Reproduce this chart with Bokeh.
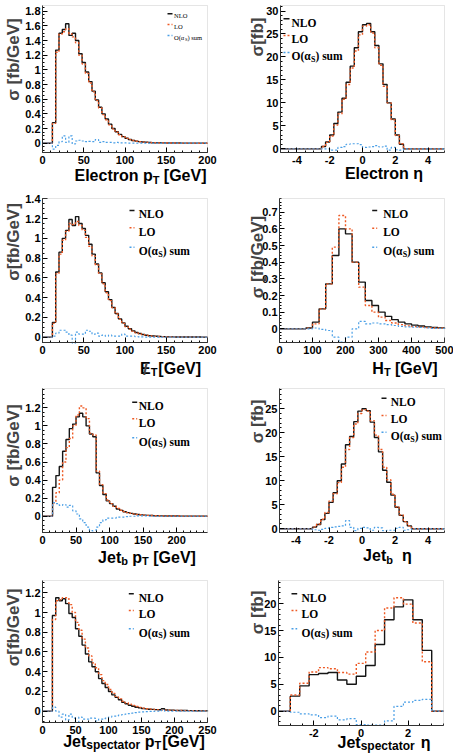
import math
import numpy as np
from bokeh.plotting import figure
from bokeh.layouts import gridplot
from bokeh.models import (Label, Arrow, FixedTicker, CustomJSTickFormatter, Range1d,
                          LinearAxis, BoxAnnotation)
from bokeh.embed import file_html
from bokeh.resources import INLINE

# ---------------- data ----------------
# Panel 1: Electron pT, 4 GeV bins from 12 GeV
ept_lo, ept_w = 12, 4
ept_nlo = [0.28, 1.27, 1.50, 1.55, 1.63, 1.47, 1.50, 1.40, 1.22, 1.10,
           0.97, 0.84, 0.71, 0.59, 0.49, 0.40, 0.33, 0.26, 0.20, 0.155,
           0.12, 0.09, 0.068, 0.05, 0.037, 0.028, 0.021, 0.016, 0.012, 0.009,
           0.007, 0.006, 0.005, 0.004, 0.003, 0.003, 0.002, 0.002, 0.002, 0.001,
           0.001, 0.001, 0.001, 0.001, 0.001, 0.0, 0.0]
ept_lo_ = [0.27, 1.24, 1.49, 1.52, 1.56, 1.49, 1.45, 1.37, 1.20, 1.08,
           0.95, 0.82, 0.70, 0.58, 0.48, 0.39, 0.32, 0.25, 0.195, 0.15,
           0.115, 0.088, 0.066, 0.049, 0.036, 0.027, 0.02, 0.015, 0.011, 0.009,
           0.007, 0.005, 0.004, 0.004, 0.003, 0.002, 0.002, 0.002, 0.001, 0.001,
           0.001, 0.001, 0.001, 0.001, 0.0, 0.0, 0.0]
ept_sum = [-0.08, -0.03, 0.02, 0.10, 0.01, 0.10, -0.01, 0.03, 0.04, 0.03,
           0.02, 0.025, 0.02, 0.05, 0.01, 0.02, 0.01, 0.01, 0.005, 0.01,
           0.005, 0.005, 0.003, 0.002, 0.002, 0.001, 0.001, 0.001, 0.001, 0.0,
           0, 0, 0, 0, 0, 0, 0, 0, 0, 0, 0, 0, 0, 0, 0, 0, 0]
ept_xticks = [0, 50, 100, 150, 200]
ept_yticks = [0, 0.2, 0.4, 0.6, 0.8, 1, 1.2, 1.4, 1.6, 1.8]

# Panel 2: Electron eta, 0.25 bins from -2.5
eeta_lo, eeta_w = -2.5, 0.25
eeta_nlo = [0.5, 1.5, 3.0, 5.5, 8.0, 11.0, 14.5, 18.0, 22.0, 25.5,
            27.0, 27.3, 25.5, 22.5, 18.5, 14.0, 10.0, 6.5, 3.0, 1.0]
eeta_lo_ = [0.5, 1.4, 2.8, 5.2, 7.6, 10.8, 14.0, 17.6, 21.3, 24.8,
            26.7, 27.0, 25.2, 22.0, 18.2, 13.6, 10.0, 6.3, 2.9, 1.1]
eeta_sum = [0.0, 0.0, -0.3, -0.3, 0.3, 0.5, 1.0, 1.1, 1.1, 0.9,
            0.3, 0.4, 0.5, 0.7, 0.4, 0.6, -0.3, 0.3, -0.2, -0.3]
eeta_xticks = [-4, -2, 0, 2, 4]
eeta_yticks = [0, 5, 10, 15, 20, 25, 30]

# Panel 3: missing ET, 4 GeV bins from 12 GeV
met_lo, met_w = 12, 4
met_nlo = [0.15, 0.66, 0.86, 1.00, 1.08, 1.19, 1.13, 1.22, 1.15, 1.10,
           1.03, 0.94, 0.84, 0.74, 0.65, 0.55, 0.46, 0.38, 0.30, 0.24,
           0.185, 0.145, 0.11, 0.085, 0.064, 0.047, 0.037, 0.027, 0.02, 0.015,
           0.012, 0.009, 0.007, 0.005, 0.004, 0.003, 0.003, 0.002, 0.002, 0.002,
           0.001, 0.001, 0.001, 0.001, 0.001, 0.0, 0.0]
met_lo_ = [0.14, 0.64, 0.84, 0.98, 1.07, 1.15, 1.14, 1.17, 1.13, 1.08,
           1.01, 0.92, 0.82, 0.73, 0.64, 0.54, 0.45, 0.37, 0.30, 0.235,
           0.18, 0.14, 0.105, 0.08, 0.061, 0.045, 0.035, 0.026, 0.019, 0.014,
           0.011, 0.008, 0.006, 0.005, 0.004, 0.003, 0.002, 0.002, 0.002, 0.001,
           0.001, 0.001, 0.001, 0.001, 0.0, 0.0, 0.0]
met_sum = [0.01, 0.04, 0.07, 0.07, 0.05, 0.02, -0.06, 0.05, 0.03, 0.03,
           0.07, 0.06, 0.03, 0.04, 0.01, 0.02, 0.01, 0.02, 0.01, 0.01,
           0.01, 0.03, 0.01, 0.01, 0.01, 0.005, 0.003, 0.002, 0.001, 0.001,
           0, 0, 0, 0, 0, 0, 0, 0, 0, 0, 0, 0, 0, 0, 0, 0, 0]
met_xticks = [0, 50, 100, 150, 200]
met_yticks = [0, 0.2, 0.4, 0.6, 0.8, 1, 1.2, 1.4]

# Panel 4: HT, 20 GeV bins from 80 GeV
ht_lo, ht_w = 80, 20
ht_nlo = [0.005, 0.04, 0.12, 0.27, 0.44, 0.60, 0.57, 0.40, 0.28, 0.17,
          0.14, 0.10, 0.075, 0.055, 0.04, 0.03, 0.022, 0.017, 0.012, 0.008, 0.006]
ht_lo_ = [0.004, 0.03, 0.12, 0.27, 0.49, 0.68, 0.60, 0.40, 0.25, 0.14,
          0.10, 0.07, 0.05, 0.035, 0.025, 0.018, 0.013, 0.01, 0.007, 0.005, 0.004]
ht_sum = [0.0, 0.005, -0.003, -0.01, -0.05, -0.08, -0.05, 0.0, 0.045, 0.03,
          0.035, 0.03, 0.025, 0.02, 0.015, 0.012, 0.01, 0.008, 0.005, 0.003, 0.002]
ht_xticks = [0, 100, 200, 300, 400, 500]
ht_yticks = [0, 0.1, 0.2, 0.3, 0.4, 0.5, 0.6, 0.7]

# Panel 5: Jet_b pT, 5 GeV bins from 15 GeV
bpt_lo, bpt_w = 15, 5
bpt_nlo = [0.32, 0.45, 0.55, 0.72, 0.85, 0.97, 1.02, 1.10, 1.14, 1.10,
           1.00, 0.91, 0.88, 0.48, 0.34, 0.24, 0.17, 0.14, 0.11, 0.08,
           0.065, 0.05, 0.04, 0.032, 0.025, 0.02, 0.015, 0.012, 0.01, 0.008,
           0.006, 0.005, 0.004, 0.003, 0.003, 0.002, 0.002, 0.002, 0.001, 0.001,
           0.001, 0.001, 0.001, 0.001, 0.001, 0.001]
bpt_lo_ = [0.15, 0.26, 0.40, 0.60, 0.76, 0.86, 1.00, 1.12, 1.22, 1.20,
           1.08, 0.92, 0.90, 0.50, 0.35, 0.25, 0.18, 0.14, 0.11, 0.085,
           0.067, 0.052, 0.041, 0.033, 0.026, 0.02, 0.016, 0.012, 0.01, 0.008,
           0.006, 0.005, 0.004, 0.003, 0.003, 0.002, 0.002, 0.002, 0.001, 0.001,
           0.001, 0.001, 0.001, 0.001, 0.001, 0.001]
bpt_sum = [0.15, 0.14, 0.12, 0.13, 0.10, 0.12, 0.06, 0.025, -0.03, -0.07,
           -0.12, -0.16, -0.18, -0.12, -0.07, -0.04, -0.02, -0.02, -0.02, -0.01,
           -0.01, -0.01, -0.005, 0.0, 0.0, 0.005, 0.005, 0.003, 0.002, 0.001,
           0, 0, 0, 0, 0, 0, 0, 0, 0, 0, 0, 0, 0, 0, 0, 0]
bpt_xticks = [0, 50, 100, 150, 200]
bpt_yticks = [0, 0.2, 0.4, 0.6, 0.8, 1, 1.2]

# Panel 6: Jet_b eta, 0.25 bins from -3
beta_lo, beta_w = -3, 0.25
beta_nlo = [0.35, 0.9, 1.9, 3.2, 5.5, 7.5, 10.0, 13.5, 17.5, 19.2, 22.3, 24.5,
            25.0, 24.6, 22.2, 19.0, 16.0, 12.2, 9.7, 7.0, 4.5, 2.8, 1.5, 0.6]
beta_lo_ = [0.4, 1.0, 2.0, 3.4, 5.8, 7.3, 9.6, 12.8, 16.5, 19.0, 21.8, 24.0,
            24.8, 24.5, 22.5, 19.5, 16.5, 12.8, 10.2, 7.2, 4.6, 2.9, 1.5, 0.6]
beta_sum = [-0.2, -0.3, -0.1, 0.1, 0.3, 0.4, 0.5, 0.6, 1.7, 0.3, -0.4, 0.1,
            0.3, 0.2, -0.3, 0.3, 0.2, -0.4, -0.3, -0.3, 0.1, 0.3, -0.3, -0.2]
beta_xticks = [-4, -2, 0, 2, 4]
beta_yticks = [0, 5, 10, 15, 20, 25]

# Panel 7: Jet_spectator pT, 5 GeV bins from 15 GeV
spt_lo, spt_w = 15, 5
spt_nlo = [0.97, 1.15, 1.12, 1.14, 1.09, 0.99, 0.95, 0.835, 0.76, 0.67,
           0.58, 0.50, 0.45, 0.40, 0.33, 0.28, 0.24, 0.20, 0.165, 0.14,
           0.115, 0.09, 0.075, 0.06, 0.05, 0.04, 0.034, 0.027, 0.023, 0.02,
           0.018, 0.016, 0.015, 0.025, 0.012, 0.01, 0.009, 0.008, 0.007, 0.006,
           0.006, 0.005, 0.005, 0.004, 0.004, 0.003, 0.003]
spt_lo_ = [0.93, 1.12, 1.13, 1.15, 1.15, 1.08, 1.00, 0.90, 0.82, 0.73,
           0.64, 0.56, 0.49, 0.44, 0.37, 0.31, 0.27, 0.22, 0.18, 0.15,
           0.125, 0.10, 0.085, 0.07, 0.058, 0.047, 0.038, 0.03, 0.025, 0.021,
           0.018, 0.015, 0.013, 0.011, 0.01, 0.009, 0.008, 0.007, 0.006, 0.006,
           0.005, 0.005, 0.004, 0.004, 0.003, 0.003, 0.003]
spt_sum = [0.04, 0.0, -0.06, -0.03, -0.09, -0.03, -0.07, -0.11, -0.06, -0.08,
           -0.08, -0.07, -0.07, -0.10, -0.08, -0.08, -0.07, -0.06, -0.05, -0.05,
           -0.04, -0.035, -0.03, -0.025, -0.02, -0.015, -0.01, -0.008, -0.005, -0.003,
           -0.002, 0.0, 0.0, 0.01, 0.0, 0, 0, 0, 0, 0, 0, 0, 0, 0, 0, 0, 0]
spt_xticks = [0, 50, 100, 150, 200, 250]
spt_yticks = [0, 0.2, 0.4, 0.6, 0.8, 1, 1.2]

# Panel 8: Jet_spectator eta, 0.4 bins from -3
seta_lo, seta_w = -3, 0.4
seta_nlo = [2.8, 4.7, 6.8, 7.0, 7.2, 5.8, 5.0, 6.5, 8.5, 12.4, 17.0, 19.4, 20.7, 17.0, 11.3]
seta_lo_ = [3.0, 5.2, 7.3, 8.1, 7.9, 7.2, 6.9, 8.9, 11.0, 15.0, 19.2, 21.1, 19.9, 16.4, 9.2]
seta_sum = [-0.2, -0.5, -0.7, -1.2, -0.9, -1.6, -1.4, -2.5, -2.6, -2.6, -1.8, 0.9, 1.7, 2.0, 2.2]
seta_xticks = [-2, 0, 2]
seta_yticks = [0, 5, 10, 15, 20]

legend_labels = ["NLO", "LO", "O(\u03b1", "S", ") sum"]

# ---------------- styling ----------------
SANS = "Liberation Sans"
SERIF = "Liberation Serif"
C_NLO = "#151515"
C_LO = "#ee5a24"
C_SUM = "#4a9fe6"

AW = {' ': .278, '[': .333, ']': .333, '/': .278, '(': .333, ')': .333, '.': .278,
      'E': .667, 'G': .778, 'V': .667, 'H': .722, 'J': .556, 'T': .611,
      'a': .556, 'b': .611, 'c': .556, 'e': .556, 'f': .333, 'l': .278, 'n': .611,
      'o': .611, 'p': .611, 'r': .389, 's': .556, 't': .333, '\u03b7': .611, '\u03c3': .62}
TW = {'N': .722, 'L': .667, 'O': .778, '(': .333, ')': .333, '\u03b1': .58, 'S': .556,
      ' ': .25, 's': .389, 'u': .556, 'm': .833}


def tw(s, size, table):
    return sum(table.get(ch, 0.56) for ch in s) * size


def step_xy(lo, w, vals, xr):
    edges = [lo + w * i for i in range(len(vals) + 1)]
    xs = [xr[0]] + edges + [xr[1]]
    ys = [0] + list(vals) + [0, 0]
    return xs, ys


def make_panel(s):
    x0, y0, w, h = s["fig"]
    L, T, R, B = s["frame"]
    (xa, xb), (ya, yb) = s["xr"], s["yr"]
    kx = (R - L) / (xb - xa)
    ky = (B - T) / (yb - ya)
    full_x = (xa - (L - x0) / kx, xb + (x0 + w - R) / kx)
    full_y = (ya - (y0 + h - B) / ky, yb + (T - y0) / ky)
    p = figure(width=w, height=h, x_range=Range1d(*full_x), y_range=Range1d(*full_y),
               output_backend="svg", toolbar_location=None, title=None,
               x_axis_location=None, y_axis_location=None,
               min_border=0, min_border_left=0, min_border_right=0,
               min_border_top=0, min_border_bottom=0)
    p.grid.visible = False
    p.outline_line_color = None
    p.background_fill_color = "white"
    p.border_fill_color = "white"

    def SX(X):
        return X - x0

    def SY(Y):
        return y0 + h - Y

    p.add_layout(BoxAnnotation(left=xa, right=xb, bottom=ya, top=yb, fill_color=None,
                               line_color="#a9a9a9", line_width=1))

    xm, ym = s["xminor"], s["yminor"]
    xt = FixedTicker(ticks=s["xticks"],
                     minor_ticks=list(np.arange(math.ceil(xa / xm - 1e-9) * xm, xb + 1e-9, xm)))
    yt = FixedTicker(ticks=s["yticks"],
                     minor_ticks=list(np.arange(math.ceil(ya / ym - 1e-9) * ym, yb + 1e-9, ym)))
    xax = LinearAxis(fixed_location=ya, bounds=(xa, xb), ticker=xt,
                     formatter=CustomJSTickFormatter(code="return String(tick)"))
    yax = LinearAxis(fixed_location=xa, bounds=(ya, yb), ticker=yt,
                     formatter=CustomJSTickFormatter(code="return String(tick)"))
    for ax in (xax, yax):
        ax.major_label_text_font = SANS
        ax.major_label_text_font_size = "11px"
        ax.major_label_text_font_style = "bold"
        ax.major_label_text_color = "black"
        ax.major_tick_in = 5
        ax.major_tick_out = 0
        ax.minor_tick_in = 2
        ax.minor_tick_out = 0
        ax.axis_line_color = "black"
        ax.major_tick_line_color = "black"
        ax.minor_tick_line_color = "black"
    xax.major_label_standoff = 3
    yax.major_label_standoff = 2
    p.add_layout(xax, "below")
    p.add_layout(yax, "left")

    xs, ys = step_xy(s["lo"], s["w"], s["nlo"], s["xr"])
    p.step(xs, ys, mode="after", line_color=C_NLO, line_width=1.4)
    xs, ys = step_xy(s["lo"], s["w"], s["lo_"], s["xr"])
    p.step(xs, ys, mode="after", line_color=C_LO, line_width=1.4, line_dash="2 2")
    xs, ys = step_xy(s["lo"], s["w"], s["sum"], s["xr"])
    p.step(xs, ys, mode="after", line_color=C_SUM, line_width=1.2, line_dash="2 2")

    def text_run(segs, X, Y, anchor, font, table, style="bold"):
        total = sum(g + tw(t, sz, table) for t, sz, dy, g in segs)
        cx = X - total / 2 if anchor == "center" else X
        starts = []
        for t, sz, dy, g in segs:
            cx += g
            starts.append(cx)
            p.add_layout(Label(x=SX(cx), y=SY(Y) + dy, x_units="screen", y_units="screen", text=t,
                               text_font=font, text_font_size=f"{sz}px", text_font_style=style,
                               text_color="black", text_align="left", text_baseline="alphabetic"))
            cx += tw(t, sz, table)
        return starts

    # axis titles
    xl = s["xlab"]
    starts = text_run(xl["segs"], xl["x"], xl["y"], "center", SANS, AW)
    if xl.get("slash"):
        p.add_layout(Label(x=SX(starts[0] + tw("E", 16, AW) / 2), y=SY(xl["y"]) - 1,
                           x_units="screen", y_units="screen", text="/", text_font=SANS,
                           text_font_size="17px", text_font_style="bold",
                           text_align="center", text_baseline="alphabetic"))
    yl = s["ylab"]
    p.add_layout(Label(x=SX(yl["x"]), y=SY(yl["y"]), x_units="screen", y_units="screen",
                       text=yl["text"], text_font=SANS, text_font_size="17px", text_font_style="bold",
                       angle=math.pi / 2, text_align="center", text_baseline="middle"))

    # legend
    lg = s["leg"]
    fs = lg["size"]
    styles = [(C_NLO, None), (C_LO, "2 2"), (C_SUM, "2 2")]
    texts = [[(legend_labels[0], fs, 0, 0)], [(legend_labels[1], fs, 0, 0)],
             [(legend_labels[2], fs, 0, 0), (legend_labels[3], fs * 0.7, -fs * 0.28, 0),
              (legend_labels[4], fs, 0, 0)]]
    for (col, dash), rowy, segs in zip(styles, lg["rows"], texts):
        kw = dict(line_dash=dash) if dash else {}
        p.add_layout(Arrow(x_start=SX(lg["sx"][0]), y_start=SY(rowy), x_end=SX(lg["sx"][1]),
                           y_end=SY(rowy), start_units="screen", end_units="screen",
                           start=None, end=None, line_color=col, line_width=1.4, **kw))
        text_run(segs, lg["tx"], rowy + fs * 0.33, "left", SERIF, TW, style=lg["style"])
    return p


specs = [
    dict(fig=(0, 0, 226, 187), frame=(42, 5, 207, 152), xr=(0, 200), yr=(-0.127, 1.878),
         xticks=ept_xticks, yticks=ept_yticks, xminor=10, yminor=0.05,
         lo=ept_lo, w=ept_w, nlo=ept_nlo, lo_=ept_lo_, sum=ept_sum,
         xlab=dict(segs=[("Electron p", 16, 0, 0), ("T", 11, -4, 0), ("[GeV]", 16, 0, 4.4)], x=140, y=175),
         ylab=dict(text="\u03c3 [fb/GeV]", x=13, y=59),
         leg=dict(size=6.5, style="normal", rows=[13.3, 24, 35], sx=(167, 172), tx=173.5)),
    dict(fig=(226, 0, 227, 187), frame=(280, 5, 444, 152), xr=(-5, 5), yr=(-0.8, 31.2),
         xticks=eeta_xticks, yticks=eeta_yticks, xminor=0.5, yminor=1,
         lo=eeta_lo, w=eeta_w, nlo=eeta_nlo, lo_=eeta_lo_, sum=eeta_sum,
         xlab=dict(segs=[("Electron \u03b7", 16, 0, 0)], x=383.5, y=173),
         ylab=dict(text="\u03c3[fb]", x=256.7, y=36.5),
         leg=dict(size=11.5, style="bold", rows=[18.3, 35, 52], sx=(283, 289), tx=291)),
    dict(fig=(0, 187, 226, 191), frame=(42, 198, 207, 342), xr=(0, 200), yr=(-0.054, 1.403),
         xticks=met_xticks, yticks=met_yticks, xminor=10, yminor=0.05,
         lo=met_lo, w=met_w, nlo=met_nlo, lo_=met_lo_, sum=met_sum,
         xlab=dict(segs=[("E", 16, 0, 0), ("T", 11, -4, 0), ("[GeV]", 16, 0, 1)], x=170, y=367.7, slash=True),
         ylab=dict(text="\u03c3[fb/GeV]", x=13, y=241.5),
         leg=dict(size=11.5, style="bold", rows=[210, 227.3, 246.7], sx=(129, 134), tx=138.3)),
    dict(fig=(226, 187, 227, 191), frame=(279, 198, 444, 342), xr=(0, 500), yr=(-0.082, 0.782),
         xticks=ht_xticks, yticks=ht_yticks, xminor=20, yminor=0.02,
         lo=ht_lo, w=ht_w, nlo=ht_nlo, lo_=ht_lo_, sum=ht_sum,
         xlab=dict(segs=[("H", 16, 0, 0), ("T", 11, -4, 0), ("[GeV]", 16, 0, 4.4)], x=404.5, y=367.7),
         ylab=dict(text="\u03c3 [fb/GeV]", x=256.7, y=256.5),
         leg=dict(size=11.5, style="bold", rows=[210, 227.7, 246.7], sx=(371.7, 376.7), tx=382.7)),
    dict(fig=(0, 378, 226, 190), frame=(42, 388, 207, 532), xr=(0, 246), yr=(-0.18, 1.414),
         xticks=bpt_xticks, yticks=bpt_yticks, xminor=10, yminor=0.05,
         lo=bpt_lo, w=bpt_w, nlo=bpt_nlo, lo_=bpt_lo_, sum=bpt_sum,
         xlab=dict(segs=[("Jet", 16, 0, 0), ("b", 11, -4, 0), ("p", 16, 0, 4.4), ("T", 11, -4, 0),
                         ("[GeV]", 16, 0, 4.4)], x=146.5, y=556.7),
         ylab=dict(text="\u03c3 [fb/GeV]", x=13, y=445),
         leg=dict(size=11.5, style="bold", rows=[401.7, 418.3, 437.3], sx=(131.7, 136.7), tx=138.3)),
    dict(fig=(226, 378, 227, 190), frame=(279, 388, 444, 532), xr=(-5, 5), yr=(-0.77, 29.2),
         xticks=beta_xticks, yticks=beta_yticks, xminor=0.5, yminor=1,
         lo=beta_lo, w=beta_w, nlo=beta_nlo, lo_=beta_lo_, sum=beta_sum,
         xlab=dict(segs=[("Jet", 16, 0, 0), ("b", 11, -4, 0), ("\u03b7", 16, 0, 9)], x=386.9, y=555),
         ylab=dict(text="\u03c3 [fb]", x=257, y=421),
         leg=dict(size=11.5, style="bold", rows=[397.7, 415, 431.7], sx=(381, 386), tx=390.3)),
    dict(fig=(0, 568, 226, 185), frame=(42, 580, 207, 722), xr=(0, 250), yr=(-0.115, 1.325),
         xticks=spt_xticks, yticks=spt_yticks, xminor=10, yminor=0.05,
         lo=spt_lo, w=spt_w, nlo=spt_nlo, lo_=spt_lo_, sum=spt_sum,
         xlab=dict(segs=[("Jet", 16, 0, 0), ("spectator", 12, -3.5, 0), ("p", 16, 0, 4.4), ("T", 11, -3.5, 0),
                         ("[GeV]", 16, 0, 1)], x=133.5, y=741),
         ylab=dict(text="\u03c3[fb/GeV]", x=13, y=627),
         leg=dict(size=11.5, style="bold", rows=[593.3, 610, 628.3], sx=(128.3, 133.3), tx=138.3)),
    dict(fig=(226, 568, 227, 185), frame=(278, 580, 443, 725), xr=(-3.5, 3.5), yr=(-2.66, 24.3),
         xticks=seta_xticks, yticks=seta_yticks, xminor=0.5, yminor=1,
         lo=seta_lo, w=seta_w, nlo=seta_nlo, lo_=seta_lo_, sum=seta_sum,
         xlab=dict(segs=[("Jet", 16, 0, 0), ("spectator", 12, -3.5, 0), ("\u03b7", 16, 0, 6)], x=383.5, y=742),
         ylab=dict(text="\u03c3 [fb]", x=257, y=612),
         leg=dict(size=11.5, style="bold", rows=[593.3, 610, 628.3], sx=(291, 296.7), tx=301)),
]

panels = [make_panel(s) for s in specs]
grid = gridplot([[panels[0], panels[1]], [panels[2], panels[3]],
                 [panels[4], panels[5]], [panels[6], panels[7]]], toolbar_location=None)

open("out.html", "w").write(file_html(grid, INLINE))
